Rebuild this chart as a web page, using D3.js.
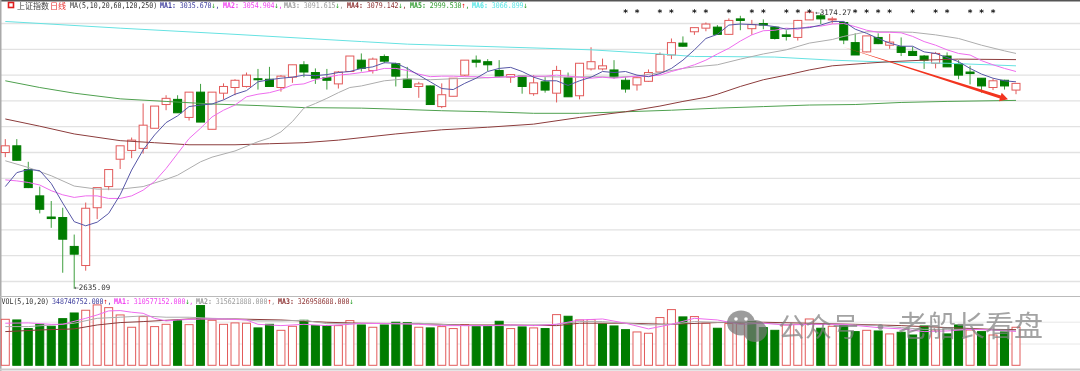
<!DOCTYPE html>
<html>
<head>
<meta charset="utf-8">
<script src="https://cdn.jsdelivr.net/npm/d3@7"></script>
<style>
  html, body { margin: 0; padding: 0; background: #fff; overflow: hidden; }
  svg { display: block; filter: blur(0.55px); }
</style>
</head>
<body>
<div id="chart"></div>
<script>
const opens = [2899,2912,2866,2815,2774,2773,2717,2680,2792,2833,2886,2903,2907,2946,2992,3002,2967,3016,2944,3014,3025,3027,3042,3041,3025,3045,3069,3054,3044,3032,3056,3078,3058,3085,3071,3041,3027,3028,2988,3008,3049,3078,3075,3058,3045,3047,3013,3036,3014,3044,3009,3061,3061,3059,3039,3030,3037,3055,3088,3111,3133,3140,3142,3128,3158,3139,3149,3142,3127,3122,3156,3164,3156,3151,3112,3094,3122,3107,3104,3095,3086,3072,3086,3071,3055,3043,3025,3039,3020];
const highs = [2925,2925,2881,2833,2805,2792,2740,2802,2831,2866,2912,2928,2994,2989,3010,3010,3016,3032,3016,3033,3041,3054,3061,3065,3049,3069,3076,3062,3061,3057,3086,3091,3083,3089,3073,3065,3036,3029,3033,3043,3078,3087,3080,3078,3051,3047,3049,3045,3067,3054,3072,3103,3081,3078,3045,3045,3060,3093,3120,3124,3141,3151,3146,3159,3164,3156,3157,3143,3136,3156,3174,3169,3162,3153,3130,3125,3130,3129,3122,3104,3088,3094,3093,3078,3067,3043,3042,3040,3033];
const lows = [2890,2883,2830,2781,2753,2666,2635,2670,2770,2826,2867,2888,2897,2946,2981,2976,2961,2958,2944,3002,3010,3025,3021,3027,3017,3034,3045,3032,3021,3023,3056,3056,3052,3072,3027,3025,3005,2992,2985,3008,3047,3064,3057,3045,3034,3013,3009,3015,2996,3007,3002,3058,3058,3042,3015,3019,3036,3054,3080,3104,3127,3134,3128,3127,3136,3127,3138,3118,3116,3116,3156,3148,3149,3109,3088,3093,3109,3100,3086,3087,3061,3062,3065,3041,3031,3015,3020,3021,3012];
const closes = [2912,2884,2831,2789,2771,2731,2702,2791,2831,2866,2912,2923,2952,2989,3004,2976,3016,2958,3016,3027,3039,3049,3040,3027,3047,3069,3055,3043,3039,3055,3086,3062,3080,3076,3047,3025,3032,2992,3011,3043,3078,3074,3069,3047,3050,3027,3034,3020,3058,3007,3072,3075,3067,3045,3022,3044,3054,3089,3112,3105,3141,3148,3128,3155,3155,3147,3146,3120,3124,3155,3171,3158,3158,3117,3088,3125,3110,3113,3093,3087,3078,3091,3065,3049,3052,3028,3038,3028,3033];

// moving averages, read candle by candle for the short ones
const ma1Vals = [2833,2860,2866,2864,2839,2801,2765,2757,2764,2781,2817,2865,2904,2933,2957,2970,2988,2991,2993,3001,3012,3019,3036,3040,3043,3045,3049,3048,3050,3054,3056,3062,3065,3073,3072,3062,3049,3036,3023,3021,3033,3043,3056,3062,3064,3056,3045,3038,3038,3029,3038,3045,3056,3054,3056,3049,3046,3052,3062,3078,3098,3120,3128,3146,3148,3147,3146,3143,3138,3140,3141,3146,3153,3153,3138,3130,3120,3111,3105,3105,3094,3091,3083,3075,3062,3051,3043,3038,3036];
const ma2Vals = [2846,2844,2841,2836,2825,2817,2812,2815,2815,2810,2810,2815,2826,2843,2868,2897,2926,2946,2968,2981,2991,3007,3012,3015,3021,3030,3032,3040,3045,3049,3051,3054,3057,3062,3062,3058,3051,3046,3047,3047,3046,3046,3044,3045,3046,3047,3047,3047,3049,3047,3045,3043,3045,3043,3045,3047,3047,3049,3056,3062,3069,3078,3090,3101,3115,3127,3135,3136,3140,3138,3143,3144,3148,3149,3143,3136,3132,3132,3131,3124,3114,3107,3098,3091,3088,3077,3069,3062,3056];
const ma3Idx = [0,2,4,6,8,10,12,14,15,17,18,20,22,23,24,25,26,27,28,29,30,31,33,35,37,39,41,43,45,47,49,51,53,55,57,59,60,62,64,66,68,70,72,73,75,77,79,81,83,85,87,88];
const ma3Vals = [2883,2870,2854,2834,2828,2828,2833,2847,2855,2881,2890,2902,2920,2927,2939,2959,2985,2994,3004,3015,3025,3028,3038,3042,3040,3042,3043,3045,3047,3046,3045,3046,3045,3047,3054,3062,3065,3069,3080,3090,3098,3111,3118,3124,3133,3133,3132,3127,3120,3107,3096,3091];
const ma4Idx = [0,3,6,10,13,16,20,23,26,29,34,38,42,46,50,54,57,59,61,62,64,66,68,70,72,75,77,80,83,88];
const ma4Vals = [2964,2950,2935,2922,2918,2914,2914,2916,2918,2923,2935,2943,2948,2954,2967,2978,2989,2998,3006,3012,3027,3040,3049,3059,3067,3072,3075,3078,3080,3079];
const ma5Idx = [0,3,6,10,14,18,22,26,31,34,38,42,46,50,54,58,62,66,70,74,78,82,88];
const ma5Vals = [3038,3025,3014,3003,2998,2993,2990,2986,2985,2983,2980,2978,2975,2975,2978,2981,2985,2988,2991,2992,2996,2998,3000];
const ma6Idx = [0,10,20,31,35,47,51,57,60,62,67,72,77,82,88];
const ma6Vals = [3153,3140,3128,3114,3109,3101,3098,3090,3085,3085,3084,3078,3074,3072,3067];

// volume in millions
const volumes = [422,416,337,376,358,428,480,505,554,529,462,349,447,355,376,410,373,548,413,376,389,386,343,376,321,358,413,364,364,364,410,370,349,370,395,392,349,343,355,337,373,355,364,404,337,352,343,337,465,450,416,419,379,361,327,306,294,438,511,444,447,386,340,383,383,401,346,321,370,376,425,340,358,364,309,321,315,288,303,278,361,324,288,370,324,309,278,306,349];
const volUp = [1,0,0,0,0,0,0,1,1,1,1,1,1,1,1,0,1,0,1,1,1,1,0,0,1,1,0,0,0,1,1,0,1,0,0,0,1,0,1,1,1,0,0,0,1,0,1,0,1,0,1,1,0,0,0,1,1,1,1,0,1,1,0,1,1,0,0,0,1,1,1,0,1,0,0,1,0,1,0,0,0,1,0,0,1,0,1,0,1];
const vma1Idx = [0,2,4,5,7,8,9,10,11,12,13,14,15,17,19,21,22,24,26,28,30,31,36,38,40,42,44,46,48,50,52,54,56,58,60,62,64,66,68,70,73,76,78,80,82,84,86,88];
const vma1Vals = [386,389,376,376,431,462,499,502,487,477,431,407,416,425,425,416,376,364,376,364,376,386,376,364,364,364,370,364,376,416,425,386,334,376,431,416,376,386,370,376,376,346,334,309,315,330,324,311];
const vma2Idx = [0,2,4,6,8,10,12,14,16,18,20,22,24,26,28,30,36,40,44,48,50,52,56,58,60,62,64,68,72,76,78,80,82,84,86,88];
const vma2Vals = [355,355,370,386,431,441,453,441,441,431,425,407,407,413,382,382,386,364,364,376,401,401,370,376,401,395,395,376,376,364,346,330,330,330,324,316];
const vma3Idx = [0,3,6,8,10,12,16,20,24,28,31,36,40,44,48,50,54,58,62,66,70,74,78,82,86,88];
const vma3Vals = [309,324,334,370,392,401,425,425,416,395,386,382,370,370,364,386,386,376,392,395,386,376,364,346,330,327];

const priceTicks = [2650,2700,2750,2800,2850,2900,2950,3000,3050,3100,3150];
const volTicks = [200,400];
const starIdx = [54,55,57,58,60,61,63,65,66,68,69,70,74,75,76,77,79,81,82,84,85,86];

const arrowFrom = { idx: 72.9, price: 3104 };
const arrowTo = { idx: 87.3, price: 3002 };

const width = 1080;
const height = 371;

const svg = d3.select("#chart").append("svg")
    .attr("width", width)
    .attr("height", height);

const x = d3.scaleLinear().domain([0, 88]).range([5.3, 1016]);
const y = d3.scaleLinear().domain([2650, 3150]).range([281, 23]);
const yVol = d3.scaleLinear().domain([0, 600]).range([365.3, 299.9]);

const RED = "#e25a5a";
const GREEN = "#007c00";
const bodyW = 8;

// horizontal grid lines come from the axes
const priceGrid = svg.append("g")
    .call(d3.axisLeft(y).tickValues(priceTicks).tickSize(-width).tickFormat(""));
const volGrid = svg.append("g")
    .call(d3.axisLeft(yVol).tickValues(volTicks).tickSize(-width).tickFormat(""));
priceGrid.selectAll(".domain").remove();
volGrid.selectAll(".domain").remove();
priceGrid.selectAll("line").attr("stroke", "#e2e2e2").attr("stroke-width", 1.3);
volGrid.selectAll("line").attr("stroke", "#e8e8e8").attr("stroke-width", 1);

// frame
svg.append("rect").attr("x", 0).attr("y", 0).attr("width", width).attr("height", 1.5).attr("fill", "#555");
svg.append("rect").attr("x", 0).attr("y", 0).attr("width", 1.5).attr("height", height).attr("fill", "#aaa");
svg.append("rect").attr("x", 0).attr("y", 296).attr("width", width).attr("height", 1).attr("fill", "#bbb");
svg.append("rect").attr("x", 0).attr("y", 368.5).attr("width", width).attr("height", 2).attr("fill", "#ccc");

// candles
const idx = d3.range(opens.length);
const candles = svg.append("g").selectAll("g")
    .data(idx)
    .enter()
    .append("g");

candles.append("line")
    .attr("x1", i => x(i))
    .attr("x2", i => x(i))
    .attr("y1", i => y(highs[i]))
    .attr("y2", i => y(lows[i]))
    .attr("stroke", i => closes[i] >= opens[i] ? RED : "#3f9f3f")
    .attr("stroke-width", 1);

candles.append("rect")
    .attr("x", i => x(i) - bodyW / 2)
    .attr("y", i => y(Math.max(opens[i], closes[i])))
    .attr("width", bodyW)
    .attr("height", i => Math.max(1, Math.abs(y(opens[i]) - y(closes[i]))))
    .attr("fill", i => closes[i] >= opens[i] ? "#fff" : GREEN)
    .attr("stroke", i => closes[i] >= opens[i] ? RED : GREEN)
    .attr("stroke-width", 1);

// volume bars
svg.append("g").selectAll("rect")
    .data(idx)
    .enter()
    .append("rect")
    .attr("x", i => x(i) - bodyW / 2)
    .attr("y", i => yVol(volumes[i]))
    .attr("width", bodyW)
    .attr("height", i => yVol(0) - yVol(volumes[i]))
    .attr("fill", i => volUp[i] ? "#fff" : GREEN)
    .attr("stroke", i => volUp[i] ? RED : GREEN)
    .attr("stroke-width", 1);

// moving average lines
const drawLine = (indices, values, scale, color) => {
    const line = d3.line().x(d => x(d[0])).y(d => scale(d[1]));
    svg.append("path")
        .datum(d3.zip(indices, values))
        .attr("fill", "none")
        .attr("stroke", color)
        .attr("stroke-width", 1)
        .attr("d", line);
};

drawLine(ma6Idx, ma6Vals, y, "#66e2e2");
drawLine(ma5Idx, ma5Vals, y, "#4fa04f");
drawLine(ma4Idx, ma4Vals, y, "#8c3c3c");
drawLine(ma3Idx, ma3Vals, y, "#adadad");
drawLine(idx, ma2Vals, y, "#ee6cee");
drawLine(idx, ma1Vals, y, "#5656a6");

drawLine(vma3Idx, vma3Vals, yVol, "#8c3c3c");
drawLine(vma2Idx, vma2Vals, yVol, "#adadad");
drawLine(vma1Idx, vma1Vals, yVol, "#ee6cee");

// the hand drawn arrow, tapered towards its start
const ax0 = x(arrowFrom.idx), ay0 = y(arrowFrom.price);
const ax1 = x(arrowTo.idx), ay1 = y(arrowTo.price);
const len = Math.hypot(ax1 - ax0, ay1 - ay0);
const ux = (ax1 - ax0) / len, uy = (ay1 - ay0) / len;
const nx = -uy, ny = ux;
const neckX = ax1 - ux * 8, neckY = ay1 - uy * 8;
const arrowPts = [
    [ax0, ay0],
    [neckX + nx * 1.6, neckY + ny * 1.6],
    [neckX + nx * 4.5, neckY + ny * 4.5],
    [ax1, ay1],
    [neckX - nx * 4.5, neckY - ny * 4.5],
    [neckX - nx * 1.6, neckY - ny * 1.6]
];
svg.append("polygon")
    .attr("points", arrowPts.map(p => p.join(",")).join(" "))
    .attr("fill", "#f2341f");

// star markers along the top
svg.append("g").selectAll("text")
    .data(starIdx)
    .enter()
    .append("text")
    .attr("x", i => x(i))
    .attr("y", 16)
    .attr("text-anchor", "middle")
    .style("font-family", "'DejaVu Sans', sans-serif")
    .style("font-weight", "700")
    .style("font-size", "9px")
    .style("fill", "#111")
    .text("*");

// high and low labels
const labelFont = "'DejaVu Sans Mono', monospace";
svg.append("text")
    .attr("x", x(70) + 6)
    .attr("y", y(3174) + 4.5)
    .style("font-family", labelFont)
    .style("font-size", "7.5px")
    .style("fill", "#333")
    .text("←3174.27");
svg.append("text")
    .attr("x", x(6))
    .attr("y", y(2635) + 1)
    .style("font-family", labelFont)
    .style("font-size", "7.5px")
    .style("fill", "#333")
    .text("←2635.09");

// legend entries: narrow mono text, stretched a little in height
const legendEntry = (px, py, parts) => {
    const t = svg.append("text")
        .attr("transform", `translate(${px}, ${py}) scale(1, 1.18)`)
        .style("font-family", labelFont)
        .style("font-size", "6.6px");
    parts.forEach(([str, color, weight]) => {
        t.append("tspan")
            .style("fill", color)
            .style("font-weight", weight || "400")
            .text(str);
    });
};

const NAVY = "#3c3c9c", PINK = "#f040f0", GREY = "#9a9a9a", BROWN = "#8c3030", MID = "#2f9a2f", CYAN = "#55e5e5";
const UP = "#e82020", DOWN = "#1a9a1a";

svg.append("rect").attr("x", 8.5).attr("y", 2.5).attr("width", 5).attr("height", 5)
    .attr("fill", "#fff").attr("stroke", "#e02020").attr("stroke-width", 1.6);

svg.append("text").attr("x", 17).attr("y", 8.5)
    .style("font-family", "'Noto Sans CJK SC', sans-serif").style("font-size", "8px").style("fill", "#444")
    .text("上证指数");
svg.append("text").attr("x", 50).attr("y", 8.5)
    .style("font-family", "'Noto Sans CJK SC', sans-serif").style("font-size", "8px").style("fill", "#e83030")
    .text("日线");

legendEntry(70, 8, [["MA(5,10,20,60,120,250)", "#333"]]);
legendEntry(160, 8, [["MA1:", NAVY, "700"], [" 3035.670", NAVY], ["↓", DOWN], [",", NAVY]]);
legendEntry(223, 8, [["MA2:", PINK, "700"], [" 3054.904", PINK], ["↓", DOWN], [",", PINK]]);
legendEntry(284, 8, [["MA3:", GREY, "700"], [" 3091.615", GREY], ["↓", DOWN], [",", GREY]]);
legendEntry(347, 8, [["MA4:", BROWN, "700"], [" 3079.142", BROWN], ["↓", DOWN], [",", BROWN]]);
legendEntry(410, 8, [["MA5:", MID, "700"], [" 2999.530", MID], ["↑", UP], [",", MID]]);
legendEntry(472, 8, [["MA6:", CYAN, "700"], [" 3066.899", CYAN], ["↓", DOWN]]);

legendEntry(1.5, 303.5, [["VOL(5,10,20)", "#333"]]);
legendEntry(52, 303.5, [["348746752.000", NAVY], ["↑", UP], [",", NAVY]]);
legendEntry(114, 303.5, [["MA1:", PINK, "700"], [" 310577152.000", PINK], ["↓", DOWN], [",", PINK]]);
legendEntry(196, 303.5, [["MA2:", GREY, "700"], [" 315621888.000", GREY], ["↑", UP], [",", GREY]]);
legendEntry(278, 303.5, [["MA3:", BROWN, "700"], [" 326958688.000", BROWN], ["↓", DOWN]]);

// watermark over everything
const mark = svg.append("g").attr("opacity", 0.72);
mark.append("ellipse").attr("cx", 741).attr("cy", 323).attr("rx", 14).attr("ry", 12.5).attr("fill", "#777");
mark.append("ellipse").attr("cx", 755).attr("cy", 331).attr("rx", 12).attr("ry", 11).attr("fill", "#777");
mark.append("circle").attr("cx", 736).attr("cy", 319).attr("r", 1.8).attr("fill", "#fff");
mark.append("circle").attr("cx", 746).attr("cy", 319).attr("r", 1.8).attr("fill", "#fff");
mark.append("text").attr("x", 778).attr("y", 337)
    .style("font-family", "'Noto Sans CJK SC', sans-serif").style("font-size", "27px")
    .style("fill", "#808080").text("公众号");
mark.append("text").attr("x", 867).attr("y", 337)
    .style("font-family", "'Noto Sans CJK SC', sans-serif").style("font-size", "27px")
    .style("fill", "#808080").text("·");
mark.append("text").attr("x", 898).attr("y", 337)
    .style("font-family", "'Noto Sans CJK SC', sans-serif").style("font-size", "29px")
    .style("fill", "#808080").text("老船长看盘");
</script>
</body>
</html>
